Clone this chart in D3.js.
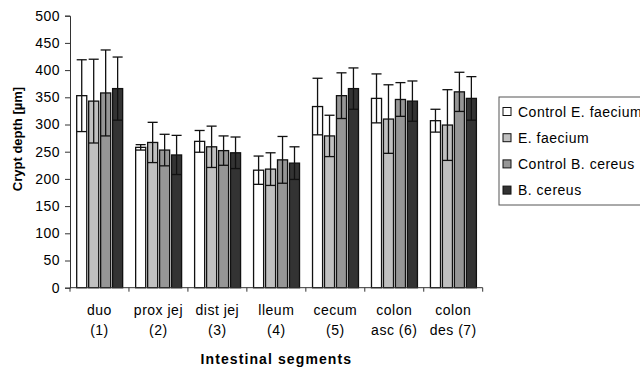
<!DOCTYPE html>
<html>
<head>
<meta charset="utf-8">
<script src="https://cdn.jsdelivr.net/npm/d3@7/dist/d3.min.js"></script>
<style>
  body { margin: 0; background: #fff; }
  svg { font-family: "Liberation Sans", Arial, sans-serif; }
</style>
</head>
<body>
<div id="chart"></div>
<script>
// data
const segments = [["duo", "(1)"], ["prox jej", "(2)"], ["dist jej", "(3)"], ["lleum", "(4)"],
                  ["cecum", "(5)"], ["colon", "asc (6)"], ["colon", "des (7)"]];
const seriesNames = ["Control E. faecium", "E. faecium", "Control B. cereus", "B. cereus"];
const seriesColors = ["#ffffff", "#c0c0c0", "#969696", "#333333"];
// means per series, one value per segment
const ctrlEf = [353, 258, 269, 216, 333, 348, 307];
const ef     = [343, 267, 259, 218, 279, 310, 299];
const ctrlBc = [358, 253, 252, 235, 353, 346, 360];
const bc     = [366, 244, 248, 229, 366, 343, 348];
// standard deviations
const ctrlEfSd = [66, 5, 20, 26, 52, 45, 21];
const efSd     = [77, 37, 38, 30, 38, 63, 65];
const ctrlBcSd = [79, 29, 27, 43, 42, 31, 36];
const bcSd     = [58, 36, 29, 30, 38, 37, 40];
const yTicks = [0, 50, 100, 150, 200, 250, 300, 350, 400, 450, 500];

const means = [ctrlEf, ef, ctrlBc, bc];
const sds = [ctrlEfSd, efSd, ctrlBcSd, bcSd];

const W = 640, H = 371;
const plot = { left: 70, right: 482.7, top: 15.7, bottom: 287.7 };

const svg = d3.select("#chart").append("svg")
  .attr("width", W).attr("height", H);

const x0 = d3.scaleBand()
  .domain(d3.range(segments.length))
  .range([plot.left, plot.right])
  .paddingInner(0).paddingOuter(0);

const x1 = d3.scaleBand()
  .domain(d3.range(seriesNames.length))
  .range([6.7, x0.bandwidth() - 6.3])
  .paddingInner(0.16);

const y = d3.scaleLinear().domain([0, 500]).range([plot.bottom, plot.top]);

// y axis
const yAxis = d3.axisLeft(y).tickValues(yTicks).tickSizeOuter(0).tickSize(5).tickPadding(5);
const gy = svg.append("g")
  .attr("transform", `translate(${plot.left},0)`)
  .call(yAxis);
gy.select(".domain").attr("stroke", "#333").attr("stroke-width", 1);
gy.selectAll(".tick line").attr("stroke", "#333");
gy.selectAll(".tick text")
  .attr("fill", "#000")
  .style("font-size", "14px")
  .style("letter-spacing", "0.5px")
  .style("font-family", "Liberation Sans, Arial, sans-serif");

// bars
const groups = svg.append("g").selectAll("g")
  .data(segments)
  .enter().append("g")
    .attr("transform", (d, i) => `translate(${x0(i)},0)`);

const rows = (d, i) => means.map((s, k) => ({ k: k, v: s[i], sd: sds[k][i] }));

groups.selectAll("rect")
  .data(rows)
  .enter().append("rect")
    .attr("x", d => x1(d.k))
    .attr("y", d => y(d.v))
    .attr("width", x1.bandwidth())
    .attr("height", d => y(0) - y(d.v))
    .attr("fill", d => seriesColors[d.k])
    .attr("stroke", "#111")
    .attr("stroke-width", 1.3);

// error bars: vertical line plus caps at mean-sd and mean+sd
const err = groups.selectAll("g.err")
  .data(rows)
  .enter().append("g")
    .attr("class", "err")
    .attr("stroke", "#111")
    .attr("stroke-width", 1.3);
err.append("line")
  .attr("x1", d => x1(d.k) + x1.bandwidth() / 2)
  .attr("x2", d => x1(d.k) + x1.bandwidth() / 2)
  .attr("y1", d => y(d.v - d.sd))
  .attr("y2", d => y(d.v + d.sd));
err.selectAll("line.cap")
  .data(d => [{ d: d, v: d.v + d.sd }, { d: d, v: d.v - d.sd }])
  .enter().append("line")
    .attr("class", "cap")
    .attr("x1", c => x1(c.d.k))
    .attr("x2", c => x1(c.d.k) + x1.bandwidth())
    .attr("y1", c => y(c.v))
    .attr("y2", c => y(c.v));

// x axis
const gx = svg.append("g")
  .attr("transform", `translate(0,${plot.bottom})`);
gx.append("line")
  .attr("x1", plot.left).attr("x2", plot.right)
  .attr("stroke", "#333");
gx.selectAll("line.tk")
  .data(d3.range(segments.length + 1))
  .enter().append("line")
    .attr("class", "tk")
    .attr("x1", i => plot.left + i * x0.step())
    .attr("x2", i => plot.left + i * x0.step())
    .attr("y1", 0).attr("y2", 4)
    .attr("stroke", "#333");

const lab = gx.selectAll("text.cat")
  .data(segments)
  .enter().append("text")
    .attr("class", "cat")
    .attr("text-anchor", "middle")
    .attr("x", (d, i) => x0(i) + x0.bandwidth() / 2)
    .style("font-size", "14px")
    .style("letter-spacing", "0.5px");
lab.selectAll("tspan")
  .data(d => d)
  .enter().append("tspan")
    .attr("x", function() { return this.parentNode.getAttribute("x"); })
    .attr("y", (d, j) => 27 + j * 20)
    .text(d => d);

// axis titles
svg.append("text")
  .attr("x", (plot.left + plot.right) / 2)
  .attr("y", 364)
  .attr("text-anchor", "middle")
  .style("font-size", "14px")
  .style("font-weight", "bold")
  .style("letter-spacing", "1.1px")
  .text("Intestinal segments");

svg.append("text")
  .attr("transform", "translate(22,139) rotate(-90)")
  .attr("text-anchor", "middle")
  .style("font-size", "13px")
  .style("font-weight", "bold")
  .text("Crypt depth [µm]");

// legend
const legend = svg.append("g").attr("class", "legend");
legend.append("rect")
  .attr("x", 499).attr("y", 97)
  .attr("width", 160).attr("height", 108)
  .attr("fill", "#fff")
  .attr("stroke", "#555")
  .attr("stroke-width", 1);

const item = legend.selectAll("g.item")
  .data(seriesNames)
  .enter().append("g")
    .attr("class", "item")
    .attr("transform", (d, i) => `translate(503,${111.5 + i * 26.2})`);
item.append("rect")
  .attr("x", 0).attr("y", -4)
  .attr("width", 8).attr("height", 8)
  .attr("fill", (d, i) => seriesColors[i])
  .attr("stroke", "#111")
  .attr("stroke-width", 1);
item.append("text")
  .attr("x", 15).attr("y", 5)
  .style("font-size", "14px")
  .style("letter-spacing", "0.5px")
  .text(d => d);
</script>
</body>
</html>
